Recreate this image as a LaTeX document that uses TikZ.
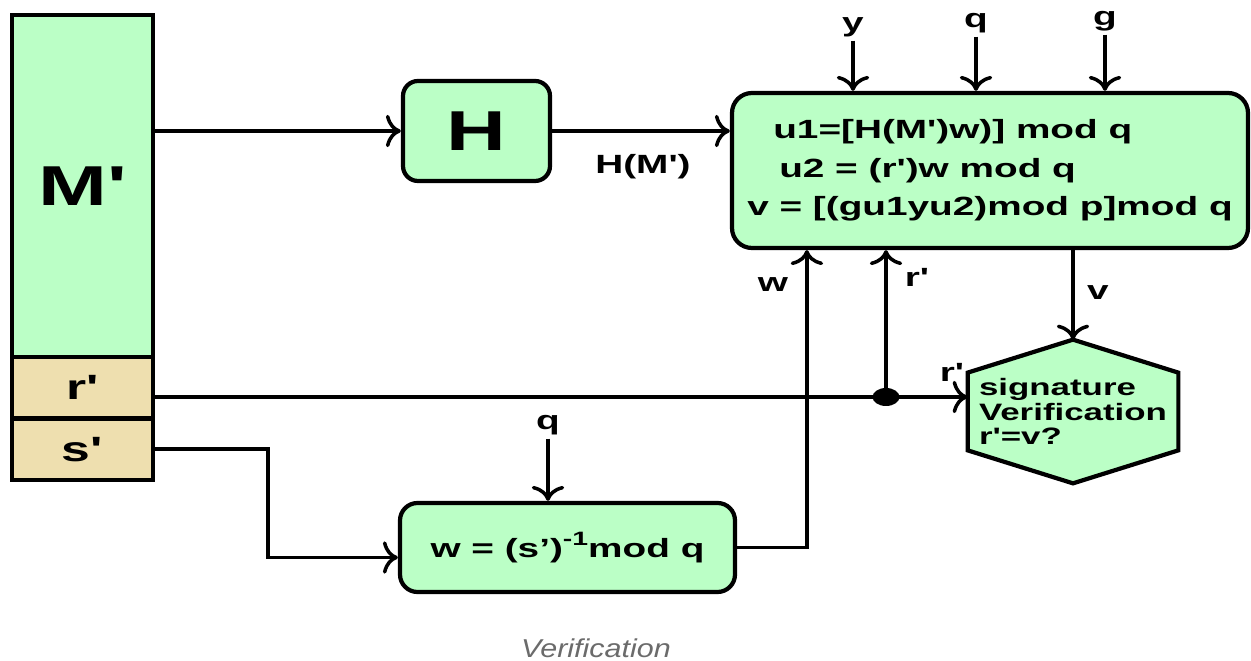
\documentclass[tikz,border=0pt]{standalone}
\usepackage{fontspec}
\usetikzlibrary{arrows.meta,positioning,calc,backgrounds}
\newfontfamily\diagfont[Ligatures=TeXOff,FakeStretch=1.47]{Liberation Sans}
\newfontfamily\capfont[FakeStretch=1.18]{Liberation Sans}
\definecolor{boxgreen}{HTML}{BBFFC6}
\definecolor{celltan}{HTML}{EEDFAF}
\tikzset{cell/.style={draw,line width=2.4pt,fill=boxgreen,minimum width=2.82cm,inner sep=0pt,outer sep=0pt,font=\diagfont\bfseries\fontsize{32}{36}\selectfont},
tcell/.style={cell,fill=celltan,minimum height=1.23cm,font=\diagfont\bfseries\fontsize{20}{22}\selectfont},
blk/.style={draw,line width=2.4pt,fill=boxgreen,align=center,font=\diagfont\bfseries\fontsize{15}{22}\selectfont},
flow/.style={-{To[length=3mm,width=6.5mm]},line width=2pt},
wire/.style={line width=2pt},
lab/.style={font=\diagfont\bfseries\fontsize{15}{18}\selectfont,inner sep=2pt},
hex/.style={minimum width=4.2cm,minimum height=1.54cm,inner sep=0pt,align=left,font=\diagfont\bfseries\fontsize{13.5}{14}\selectfont}}
\begin{document}
\begin{tikzpicture}
\useasboundingbox (0,0) rectangle (25.02,13.22);
\node[cell,minimum height=6.84cm] (msg) at (1.65,9.5) {M'};
\node[tcell,below=0pt of msg] (rp) {r'};
\node[tcell,below=0pt of rp] (sp) {s'};
\node[blk,minimum width=2.94cm,minimum height=2cm,rounded corners=0.3cm,font=\diagfont\bfseries\fontsize{32}{36}\selectfont] (hash) at (9.53,10.6) {H};
\node[blk,minimum width=10.32cm,minimum height=3.1cm,rounded corners=0.4cm,align=left] (calc) at (19.8,9.81) {\hspace*{0.52cm}u1=[H(M')w)] mod q\\\hspace*{0.64cm}u2 = (r')w mod q\\v = [(gu1yu2)mod p]mod q};
\node[blk,minimum width=6.7cm,minimum height=1.78cm,rounded corners=0.35cm] (inv) at (11.35,2.27) {w = (s’)\raisebox{.45em}{\fontsize{11}{11}\selectfont -1}mod q};
\node[hex] (sigver) at (21.46,4.99) {signature\\Verification\\r'=v?};
\begin{pgfonlayer}{background}
\filldraw[line width=2.4pt,fill=boxgreen] (sigver.north west) -- ([yshift=6.6mm]sigver.north) -- (sigver.north east) -- (sigver.south east) -- ([yshift=-6.6mm]sigver.south) -- (sigver.south west) -- cycle;
\end{pgfonlayer}
\node[lab] (iny) at (17.06,12.68) {y};
\node[lab] (inq) at (19.52,12.76) {q};
\node[lab] (ing) at (22.1,12.8) {g};
\foreach \n in {iny,inq,ing} \draw[flow] (\n) -- (\n |- calc.north);
\draw[flow] (msg.east |- hash.west) -- (hash.west);
\draw[flow] (hash.east) -- (hash.east -| calc.west);
\node[lab] (hm) at (12.86,9.88) {H(M')};
\coordinate (wtop) at ([xshift=1.54cm]calc.south west);
\draw[flow] (inv.east) -| (wtop);
\node[lab] (wl) at (15.46,7.52) {w};
\node[lab] (inq2) at (10.96,4.72) {q};
\draw[flow] (inq2) -- (inq2 |- inv.north);
\draw[flow] (sp.east) -- ++(2.3,0) |- ([yshift=-2mm]inv.west);
\coordinate (rdot) at (17.72,5.28);
\draw[wire] (rp.east |- rdot) -- (rdot);
\draw[flow] (rdot) -- (rdot -| sigver.west);
\draw[flow] (rdot) -- (rdot |- calc.south);
\fill (rdot) ellipse [x radius=2.7mm,y radius=1.8mm];
\node[lab] (rl1) at (18.34,7.68) {r'};
\node[lab] (rl2) at (19.04,5.78) {r'};
\draw[flow] (calc.south -| sigver.north) -- ([yshift=6.6mm]sigver.north);
\node[lab] (vl) at (21.96,7.36) {v};
\node[font=\capfont\itshape\fontsize{14.7}{16}\selectfont,text=black!58] (cap) at (11.92,0.26) {Verification};
\end{tikzpicture}
\end{document}
